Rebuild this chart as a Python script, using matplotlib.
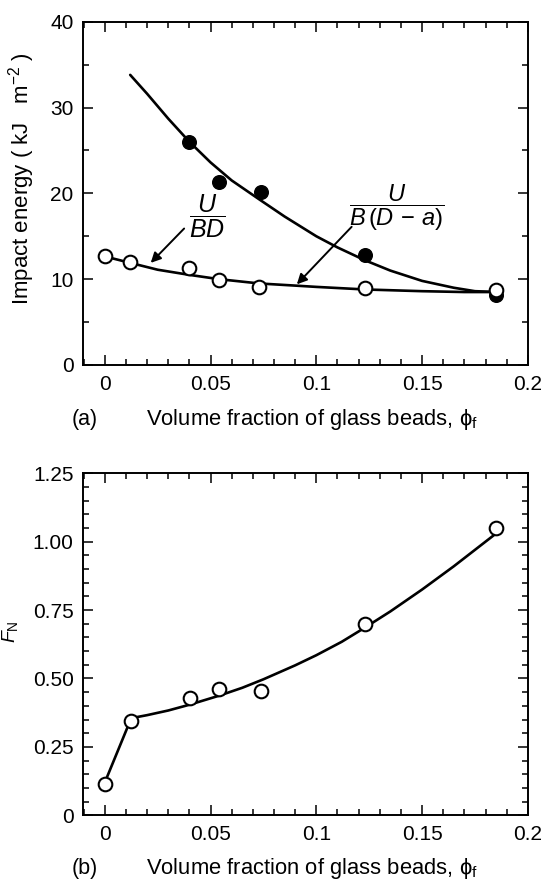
import matplotlib
matplotlib.use("Agg")
import matplotlib.pyplot as plt
from matplotlib.ticker import MultipleLocator, FixedLocator, FixedFormatter

plt.rcParams['font.family'] = ['Liberation Sans', 'DejaVu Sans']
plt.rcParams['mathtext.fontset'] = 'custom'
plt.rcParams['mathtext.rm'] = 'Liberation Sans'
plt.rcParams['mathtext.it'] = 'Liberation Sans:italic'
plt.rcParams['mathtext.bf'] = 'Liberation Sans:bold'

# ---- data, panel (a)
phi_open = [0.0, 0.012, 0.040, 0.054, 0.073, 0.123, 0.185]
u_bd = [12.65, 11.95, 11.3, 9.85, 9.1, 9.0, 8.75]
phi_filled = [0.040, 0.054, 0.074, 0.123, 0.185]
u_bda = [26.0, 21.35, 20.2, 12.85, 8.1]
fit_filled_x = [0.012, 0.02, 0.03, 0.04, 0.05, 0.06, 0.073, 0.085, 0.1, 0.11, 0.123, 0.135, 0.15, 0.165, 0.175, 0.186]
fit_filled_y = [33.8, 31.6, 28.7, 26.0, 23.6, 21.5, 19.3, 17.3, 15.0, 13.7, 12.2, 11.0, 9.8, 9.0, 8.6, 8.5]
fit_open_x = [0.0, 0.012, 0.025, 0.04, 0.054, 0.073, 0.09, 0.1, 0.123, 0.15, 0.17, 0.186]
fit_open_y = [12.65, 11.9, 11.1, 10.5, 10.0, 9.5, 9.25, 9.1, 8.8, 8.6, 8.5, 8.5]

# ---- data, panel (b)
phi_b = [0.0, 0.0125, 0.0405, 0.054, 0.074, 0.123, 0.185]
fn = [0.113, 0.346, 0.428, 0.461, 0.453, 0.698, 1.050]
fit_b_x = [0.0, 0.0125, 0.02, 0.03, 0.04, 0.054, 0.065, 0.075, 0.09, 0.1, 0.112, 0.123, 0.135, 0.15, 0.165, 0.175, 0.185]
fit_b_y = [0.12, 0.355, 0.366, 0.383, 0.404, 0.437, 0.466, 0.497, 0.548, 0.585, 0.634, 0.686, 0.745, 0.825, 0.91, 0.97, 1.03]

xticks = [0, 0.05, 0.1, 0.15, 0.2]
xticklabels = ['0', '0.05', '0.1', '0.15', '0.2']
yticks_a = [0, 10, 20, 30, 40]
yticks_b = [0, 0.25, 0.5, 0.75, 1.0, 1.25]
yticklabels_b = ['0', '0.25', '0.50', '0.75', '1.00', '1.25']

FS = 15
XLAB = 'Volume fraction of glass beads, \u03d5$_{\\mathrm{f}}$'

fig = plt.figure(figsize=(5.55, 8.81), dpi=100)
axa = fig.add_axes([0.150, 0.5857, 0.801, 0.3897])
axb = fig.add_axes([0.150, 0.0746, 0.801, 0.3882])

def style(ax):
    ax.set_xlim(-0.0102, 0.2)
    ax.xaxis.set_major_locator(FixedLocator(xticks))
    ax.xaxis.set_major_formatter(FixedFormatter(xticklabels))
    ax.xaxis.set_minor_locator(MultipleLocator(0.01))
    ax.tick_params(which='both', direction='in', top=True, right=True,
                   labelsize=FS, width=1.1)
    ax.tick_params(axis='both', which='both', pad=7)
    ax.tick_params(which='major', length=7)
    ax.tick_params(which='minor', length=4)
    for s in ax.spines.values():
        s.set_linewidth(1.4)

def labels(ax, ylab, yfs, ycoords, xy, tag):
    ax.set_ylabel(ylab, fontsize=yfs, va='center', ha='center')
    ax.yaxis.set_label_coords(*ycoords)
    ax.set_xlabel(XLAB, fontsize=FS + 0.8, va='center', ha='center')
    ax.xaxis.set_label_coords(0.515, xy)
    ax.text(-0.027, xy, tag, transform=ax.transAxes, fontsize=FS + 0.5, va='center', ha='left')

LW = 1.9
MS = 9.8
ARROW = dict(arrowstyle='-|>', color='black', lw=1.4, mutation_scale=15, shrinkA=0, shrinkB=0)

# panel (a)
axa.plot(fit_filled_x, fit_filled_y, color='black', lw=LW, solid_capstyle='round', solid_joinstyle='round')
axa.plot(fit_open_x, fit_open_y, color='black', lw=LW, solid_capstyle='round', solid_joinstyle='round')
axa.plot(phi_filled, u_bda, 'o', color='black', ms=MS, zorder=5)
axa.plot(phi_open, u_bd, 'o', mfc='white', mec='black', mew=1.5, ms=MS, zorder=6)
style(axa)
axa.set_ylim(0, 40)
axa.yaxis.set_major_locator(FixedLocator(yticks_a))
axa.yaxis.set_minor_locator(MultipleLocator(5))
labels(axa, 'Impact energy ( kJ   m$^{-2}$ )', FS + 1, (-0.138, 0.543), -0.16, '(a)')

axa.text(0.0483, 17.4, '$\\dfrac{U}{BD}$', fontsize=FS + 3, ha='center', va='center')
axa.text(0.138, 18.3, '$\\dfrac{U}{B\\,(D\\,-\\,a)}$', fontsize=FS + 2, ha='center', va='center')
axa.annotate('', xy=(0.0217, 11.9), xytext=(0.0375, 15.9), arrowprops=ARROW)
axa.annotate('', xy=(0.0908, 9.4), xytext=(0.1167, 16.1), arrowprops=ARROW)

# panel (b)
axb.plot(fit_b_x, fit_b_y, color='black', lw=LW, solid_capstyle='round', solid_joinstyle='round')
axb.plot(phi_b, fn, 'o', mfc='white', mec='black', mew=1.5, ms=MS, zorder=6)
style(axb)
axb.set_ylim(0, 1.25)
axb.yaxis.set_major_locator(FixedLocator(yticks_b))
axb.yaxis.set_major_formatter(FixedFormatter(yticklabels_b))
axb.yaxis.set_minor_locator(MultipleLocator(0.05))
labels(axb, '$F_{\\rm N}$', FS - 1, (-0.165, 0.536), -0.157, '(b)')

fig.savefig('out.png', dpi=100)
